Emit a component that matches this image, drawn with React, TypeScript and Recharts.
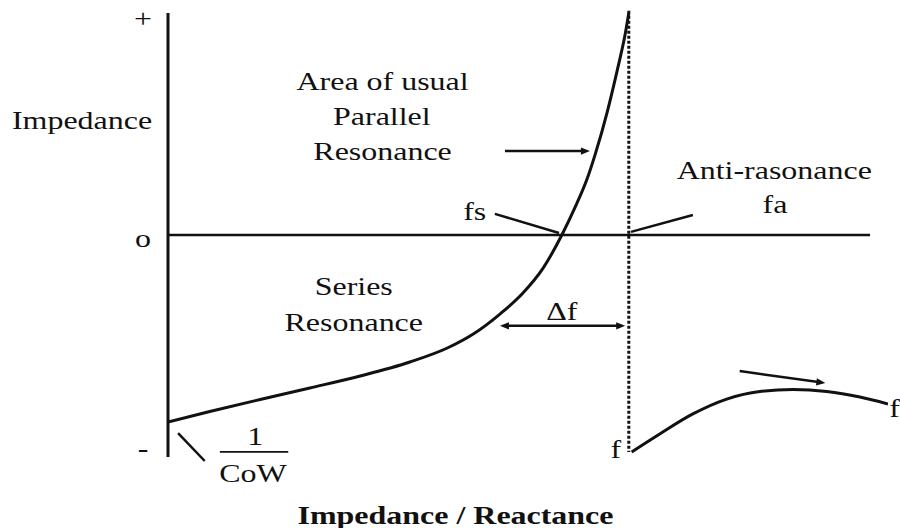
import React from 'react';
import { ComposedChart, Line, XAxis, YAxis, ReferenceLine, ReferenceDot } from 'recharts';

const INK = '#111111';
const FONT = '"Liberation Serif", "Times New Roman", Times, serif';
const FONT_SIZE = 26;
const STRETCH = 1.23;

// Relative frequency (0..100) against reactance (-100 = "-", +100 = "+")
const frequencyDomain = [0, 100];
const reactanceDomain = [-100, 100];
const reactanceTicks = [100, 0, -100];
const reactanceTickLabels = ['+', 'o', '-'];

// Branch from 1/CoW up through series resonance fs to the pole at fa
const seriesFreq = [0, 5.8, 12.8, 19.7, 26.7, 33.6, 38.8, 42.4, 46.1, 49.3, 52.1, 54.7, 56.5, 58.2, 59.3, 61.0, 62.4, 63.5, 64.0];
const seriesReactance = [-84.2, -79.5, -74.1, -68.9, -63.5, -57.2, -50.9, -44.6, -35.6, -26.1, -14.9, 0, 12.2, 25.2, 36.0, 55.4, 74.3, 90.5, 100];

// Branch beyond anti-resonance fa
const parallelFreq = [64.4, 68.3, 72.9, 77.6, 82.2, 86.8, 91.5, 96.1, 100];
const parallelReactance = [-97.7, -89.6, -80.6, -73.9, -70.5, -69.6, -70.5, -73.0, -76.1];

const seriesPoints = seriesFreq.map((freq, i) => ({ freq, reactance: seriesReactance[i] }));
const parallelPoints = parallelFreq.map((freq, i) => ({ freq, reactance: parallelReactance[i] }));

// Key frequencies
const antiResonanceFreq = 64.0;
const zeroLineEnd = 97.5;

// Text notes, placed at (frequency, reactance) baselines
const notes: { text: string; freq: number; reactance: number }[] = [
  { text: 'Area of usual', freq: 29.8, reactance: 65.3 },
  { text: 'Parallel', freq: 29.7, reactance: 49.5 },
  { text: 'Resonance', freq: 29.8, reactance: 33.8 },
  { text: 'Series', freq: 25.8, reactance: -27.0 },
  { text: 'Resonance', freq: 25.8, reactance: -43.2 },
  { text: 'fs', freq: 42.6, reactance: 6.8 },
  { text: 'Anti-rasonance', freq: 84.2, reactance: 25.2 },
  { text: 'fa', freq: 84.3, reactance: 9.9 },
  { text: '\u0394f', freq: 54.7, reactance: -38.3 },
  { text: 'f', freq: 62.2, reactance: -100.5 },
  { text: 'f', freq: 100.9, reactance: -82.0 },
  { text: '1', freq: 12.1, reactance: -94.6 },
  { text: 'CoW', freq: 11.8, reactance: -111.3 },
];

// Pointers and leader lines: heads 0 = plain, 1 = arrow at end, 2 = arrows at both ends
const pointers: { from: [number, number]; to: [number, number]; heads: 0 | 1 | 2 }[] = [
  { from: [46.8, 37.8], to: [58.6, 37.8], heads: 1 },
  { from: [46.1, -40.9], to: [63.5, -40.9], heads: 2 },
  { from: [79.4, -61.3], to: [91.3, -66.7], heads: 1 },
  { from: [45.4, 9.5], to: [54.3, 0.9], heads: 0 },
  { from: [72.9, 9.0], to: [64.3, 1.4], heads: 0 },
  { from: [1.4, -89.2], to: [5.1, -101.8], heads: 0 },
];
const fractionBar: [[number, number], [number, number]] = [[7.2, -97.7], [16.7, -97.7]];

function StretchText({ x, y, text, bold = false }: { x: number; y: number; text: string; bold?: boolean }) {
  return (
    <text
      transform={`translate(${x},${y}) scale(${STRETCH},1)`}
      textAnchor="middle"
      fontFamily={FONT}
      fontSize={FONT_SIZE}
      fontWeight={bold ? 700 : 400}
      fill={INK}
    >
      {text}
    </text>
  );
}

const HEAD_LEN = 9;
const HEAD_HALF = 3.6;

function arrowHead(tipX: number, tipY: number, ux: number, uy: number) {
  const bx = tipX - ux * HEAD_LEN;
  const by = tipY - uy * HEAD_LEN;
  const px = -uy * HEAD_HALF;
  const py = ux * HEAD_HALF;
  return `${tipX},${tipY} ${bx + px},${by + py} ${bx - px},${by - py}`;
}

const segmentShape = (heads: 0 | 1 | 2, width: number) => (p: any) => {
  const x1 = Number(p.x1);
  const y1 = Number(p.y1);
  const x2 = Number(p.x2);
  const y2 = Number(p.y2);
  const len = Math.hypot(x2 - x1, y2 - y1) || 1;
  const ux = (x2 - x1) / len;
  const uy = (y2 - y1) / len;
  const sx = heads === 2 ? x1 + ux * (HEAD_LEN - 2) : x1;
  const sy = heads === 2 ? y1 + uy * (HEAD_LEN - 2) : y1;
  const ex = heads >= 1 ? x2 - ux * (HEAD_LEN - 2) : x2;
  const ey = heads >= 1 ? y2 - uy * (HEAD_LEN - 2) : y2;
  return (
    <g>
      <line x1={sx} y1={sy} x2={ex} y2={ey} stroke={INK} strokeWidth={width} />
      {heads >= 1 && <polygon points={arrowHead(x2, y2, ux, uy)} fill={INK} />}
      {heads === 2 && <polygon points={arrowHead(x1, y1, -ux, -uy)} fill={INK} />}
    </g>
  );
};

function ReactanceTick(props: any) {
  const { x, y, payload } = props;
  const i = reactanceTicks.indexOf(payload.value);
  const dy = [13.5, 12, -0.5][i] ?? 0;
  return <StretchText x={x} y={y + dy} text={reactanceTickLabels[i] ?? ''} />;
}

export default function App() {
  return (
    <div style={{ position: 'absolute', left: 0, top: 0, width: 900, height: 528, background: '#ffffff' }}>
      <ComposedChart width={900} height={528} margin={{ top: 13, right: 12, bottom: 0, left: 0 }}>
        <XAxis
          dataKey="freq"
          type="number"
          domain={frequencyDomain}
          allowDataOverflow
          axisLine={false}
          tickLine={false}
          tick={false}
          height={71}
          label={{
            content: (p: any) => {
              const vb = p.viewBox || { x: 168, y: 457 };
              return <StretchText x={vb.x + 287.5} y={vb.y + 67} text="Impedance / Reactance" bold />;
            },
          }}
        />
        <YAxis
          type="number"
          domain={reactanceDomain}
          allowDataOverflow
          ticks={reactanceTicks}
          width={168}
          axisLine={{ stroke: INK, strokeWidth: 3 }}
          tickLine={false}
          tickSize={0}
          tickMargin={25}
          tick={<ReactanceTick />}
          label={{
            content: (p: any) => {
              const vb = p.viewBox || { x: 0, y: 13 };
              return <StretchText x={vb.x + 82} y={vb.y + 116} text="Impedance" />;
            },
          }}
        />

        {/* zero reactance line */}
        <ReferenceLine
          segment={[{ x: 0, y: 0 }, { x: zeroLineEnd, y: 0 }]}
          stroke={INK}
          strokeWidth={2.5}
          ifOverflow="visible"
        />
        {/* anti-resonance marker */}
        <ReferenceLine
          segment={[{ x: antiResonanceFreq, y: 101 }, { x: antiResonanceFreq, y: -97.7 }]}
          stroke={INK}
          strokeWidth={3}
          strokeDasharray="3 2"
          ifOverflow="visible"
        />

        <Line
          data={seriesPoints}
          dataKey="reactance"
          type="monotone"
          stroke={INK}
          strokeWidth={3}
          dot={false}
          activeDot={false}
          isAnimationActive={false}
        />
        <Line
          data={parallelPoints}
          dataKey="reactance"
          type="monotone"
          stroke={INK}
          strokeWidth={3}
          dot={false}
          activeDot={false}
          isAnimationActive={false}
        />

        {pointers.map((s, i) => (
          <ReferenceLine
            key={`ptr-${i}`}
            segment={[{ x: s.from[0], y: s.from[1] }, { x: s.to[0], y: s.to[1] }]}
            ifOverflow="visible"
            shape={segmentShape(s.heads, 2.5)}
          />
        ))}
        <ReferenceLine
          segment={[{ x: fractionBar[0][0], y: fractionBar[0][1] }, { x: fractionBar[1][0], y: fractionBar[1][1] }]}
          ifOverflow="visible"
          shape={segmentShape(0, 1.6)}
        />

        {notes.map((n, i) => (
          <ReferenceDot
            key={`note-${i}`}
            x={n.freq}
            y={n.reactance}
            r={0}
            ifOverflow="visible"
            shape={(p: any) => <StretchText x={p.cx} y={p.cy} text={n.text} />}
          />
        ))}
      </ComposedChart>
    </div>
  );
}
